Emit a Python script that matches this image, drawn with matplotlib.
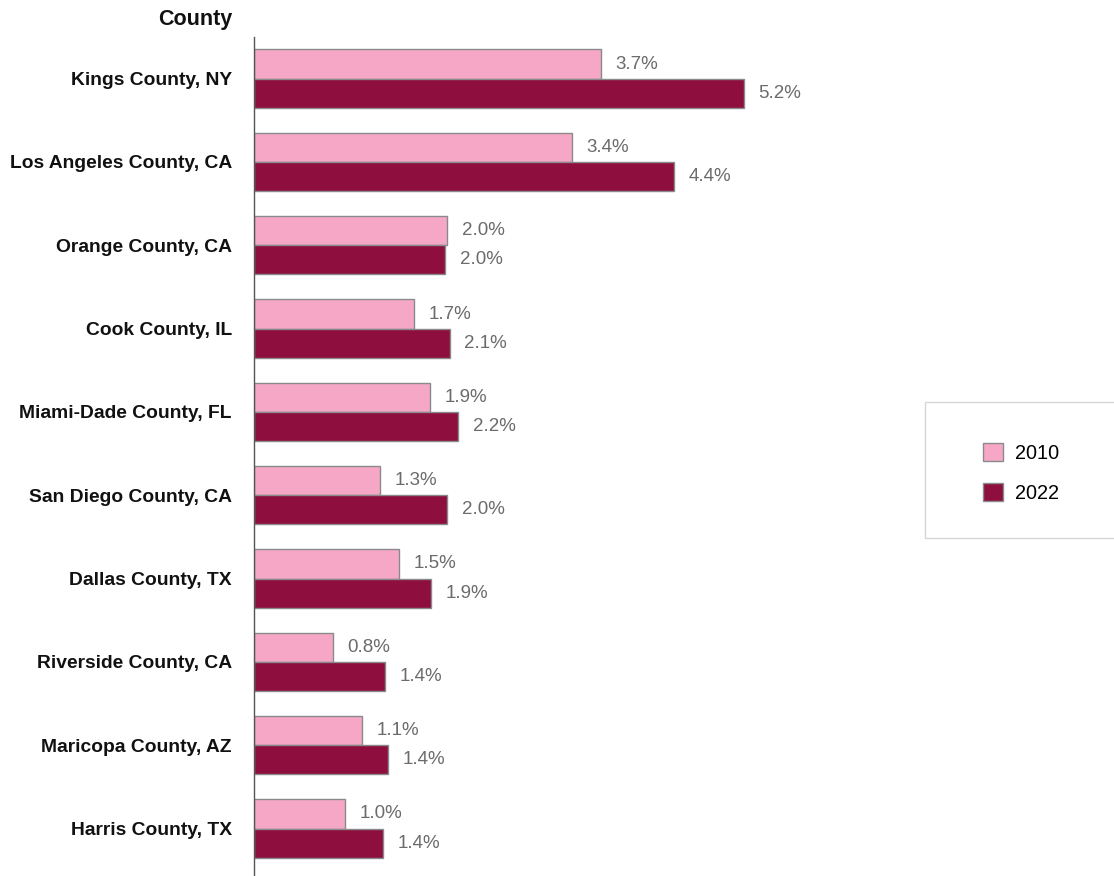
import matplotlib
matplotlib.use("Agg")
import matplotlib.pyplot as plt
from matplotlib.patches import Patch, Rectangle
import numpy as np

counties = ["Kings County, NY", "Los Angeles County, CA", "Orange County, CA",
            "Cook County, IL", "Miami-Dade County, FL", "San Diego County, CA",
            "Dallas County, TX", "Riverside County, CA", "Maricopa County, AZ",
            "Harris County, TX"]
share_2010 = [3.67, 3.36, 2.04, 1.69, 1.86, 1.33, 1.53, 0.83, 1.14, 0.96]
share_2022 = [5.18, 4.44, 2.02, 2.07, 2.16, 2.04, 1.87, 1.39, 1.42, 1.36]
series_names = ["2010", "2022"]
axis_title = "County"

c2010 = "#F6A7C6"
c2022 = "#8E0E3D"
edge = "#8a8a8a"
font = "Liberation Sans"

W, H = 1114, 876
fig = plt.figure(figsize=(W / 100, H / 100), dpi=100)
ax_left, ax_right, ax_top = 254, 900, 37
ax = fig.add_axes([ax_left / W, 0, (ax_right - ax_left) / W, (H - ax_top) / H])

y = np.arange(len(counties))
h = 0.35
ax.barh(y - h / 2, share_2010, height=h, color=c2010, edgecolor=edge, linewidth=1)
ax.barh(y + h / 2, share_2022, height=h, color=c2022, edgecolor=edge, linewidth=1)

for yi, v in zip(y - h / 2, share_2010):
    ax.annotate(f"{v:.1f}%", (v, yi), xytext=(10.5, 0), textcoords="offset points",
                va="center", ha="left", fontsize=13.5, color="#6b6b6b", family=font)
for yi, v in zip(y + h / 2, share_2022):
    ax.annotate(f"{v:.1f}%", (v, yi), xytext=(10.5, 0), textcoords="offset points",
                va="center", ha="left", fontsize=13.5, color="#6b6b6b", family=font)

ax.set_xlim(0, (ax_right - ax_left) / 94.6)
ax.set_ylim(9.57, -0.5)
ax.set_yticks(y)
ax.set_yticklabels(counties, fontsize=13.9, fontweight="bold", family=font, color="#111111")
ax.tick_params(axis="y", length=0, pad=16)
ax.set_xticks([])
for s in ["top", "right", "bottom"]:
    ax.spines[s].set_visible(False)
ax.spines["left"].set_color("#555555")
ax.spines["left"].set_linewidth(1)

fig.text(232 / W, 1 - 20 / H, axis_title, ha="right", va="center", fontsize=15.5,
         fontweight="bold", family=font, color="#111111")

# legend box
fig.patches.append(Rectangle((925 / W, 1 - 538 / H), 200 / W, 136 / H,
                             transform=fig.transFigure, facecolor="white",
                             edgecolor="#d6d6d6", linewidth=1))
handles = [Patch(facecolor=c2010, edgecolor=edge), Patch(facecolor=c2022, edgecolor=edge)]
fig.legend(handles, series_names, loc="center left", bbox_to_anchor=(965 / W, 1 - 473 / H),
           frameon=False, prop={"family": font, "size": 14.3}, handlelength=1.0,
           handleheight=1.0, labelspacing=1.0, handletextpad=0.6)

fig.savefig("out.png", dpi=100)
